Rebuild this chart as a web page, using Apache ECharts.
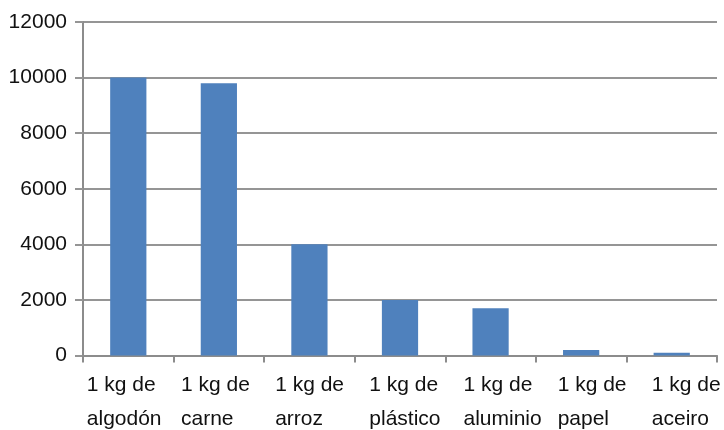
<!DOCTYPE html>
<html><head><meta charset="utf-8">
<script src="https://cdn.jsdelivr.net/npm/echarts@6/dist/echarts.min.js"></script>
<style>html,body{margin:0;padding:0;background:#fff}#c{width:724px;height:430px}</style>
</head><body><div id="c"></div>
<script>
const categories = ['1 kg de\nalgodón','1 kg de\ncarne','1 kg de\narroz','1 kg de\nplástico','1 kg de\naluminio','1 kg de\npapel','1 kg de\naceiro'];
const values = [10000, 9800, 4000, 2000, 1700, 200, 100];
const yTicks = {min: 0, max: 12000, interval: 2000};

const chart = echarts.init(document.getElementById('c'));
const axisColor = '#8c8c8c';
const gridColor = '#959595';
const font = 'Liberation Sans, Arial, Helvetica, sans-serif';
// label blocks are spread slightly wider than the categories in the reference
const rich = {};
categories.forEach((c, i) => {
  rich['l' + i] = {width: 83 - 7.2 * i, align: 'left', fontFamily: font, fontSize: 21, color: '#111', lineHeight: 34};
});
chart.setOption({
  animation: false,
  grid: {left: 83, right: 7, top: 22, bottom: 73, containLabel: false},
  xAxis: {
    type: 'category', data: categories, boundaryGap: true,
    axisLine: {show: true, lineStyle: {color: axisColor, width: 2}},
    axisTick: {show: true, length: 7, lineStyle: {color: axisColor, width: 2}},
    axisLabel: {
      interval: 0, margin: 13,
      formatter: (v, i) => v.split('\n').map(s => '{l' + i + '|' + s + '}').join('\n'),
      rich: rich
    }
  },
  yAxis: {
    type: 'value', min: yTicks.min, max: yTicks.max, interval: yTicks.interval,
    axisLine: {show: true, lineStyle: {color: axisColor, width: 2}},
    axisTick: {show: true, length: 8, lineStyle: {color: gridColor, width: 2}},
    splitLine: {show: true, lineStyle: {color: gridColor, width: 2}},
    axisLabel: {margin: 16, fontFamily: font, fontSize: 21, color: '#111', formatter: v => String(v)}
  },
  series: [{
    type: 'bar', data: values, barWidth: '40%',
    itemStyle: {color: '#4F81BD'}
  }]
});
</script></body></html>
